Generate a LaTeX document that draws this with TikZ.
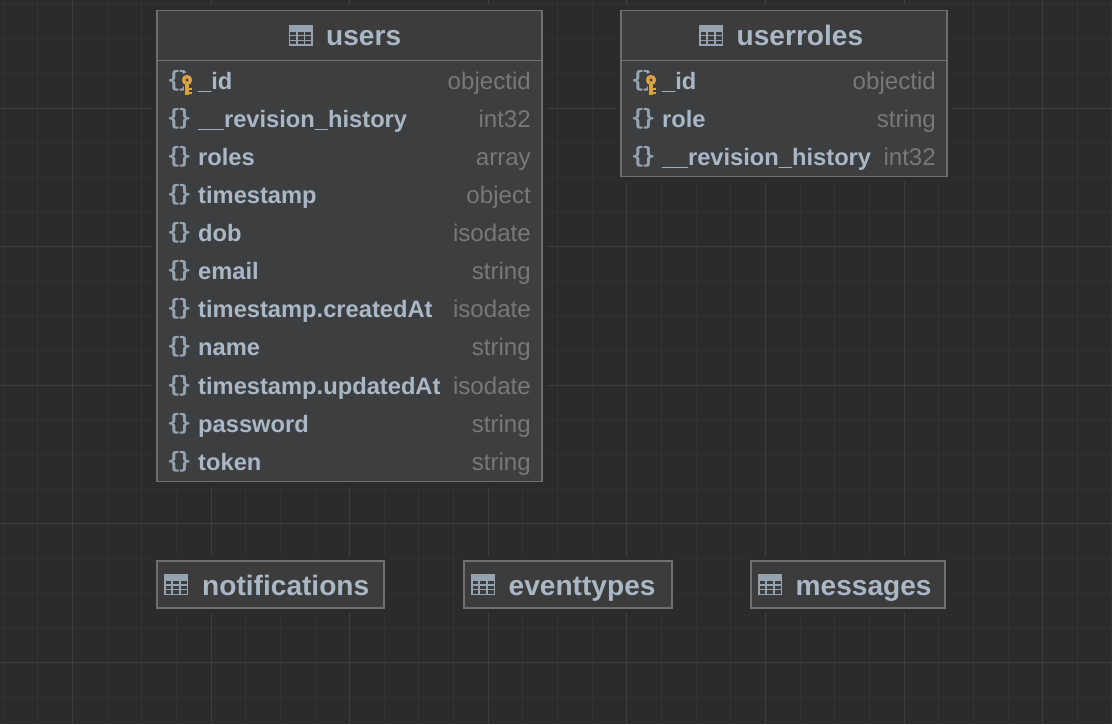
\documentclass[tikz,border=0pt]{standalone}
\usepackage{fontspec}
\setmainfont{Liberation Sans}
\newfontfamily\iconfont{DejaVu Sans Mono}
\definecolor{bgc}{HTML}{2B2B2B}
\definecolor{gridminor}{HTML}{323232}
\definecolor{gridmajor}{HTML}{3E3E3E}
\definecolor{headc}{HTML}{3C3C3C}
\definecolor{bodyc}{HTML}{3D3E40}
\definecolor{edgec}{HTML}{6E6F6E}
\definecolor{labelc}{HTML}{A9B7C6}
\definecolor{iconc}{HTML}{95A3B0}
\definecolor{typec}{HTML}{787878}
\definecolor{keyc}{HTML}{D9A343}
\tikzset{
  x=1pt,y=-1pt,
  tablebox/.style={draw=edgec,line width=1.7pt,fill=bodyc},
  headbox/.style={draw=edgec,line width=1.7pt,fill=headc},
  halo/.style={fill=bgc,draw=none},
  titletext/.style={text=labelc,inner sep=0pt,anchor=base west,font=\fontsize{28.1}{30}\selectfont\bfseries},
  fieldtext/.style={text=labelc,inner sep=0pt,anchor=base west,font=\fontsize{23.7}{26}\selectfont\bfseries},
  typetext/.style={text=typec,inner sep=0pt,anchor=base east,font=\fontsize{24.1}{26}\selectfont},
  bracetext/.style={text=iconc,inner sep=0pt,anchor=base west,font=\iconfont\bfseries\fontsize{22.5}{24}\selectfont},
}
% table glyph: x left, y top
\newcommand{\tableglyph}[2]{%
  \fill[iconc] (#1,#2) rectangle ++(24,21);
  \foreach \cx in {1.5,9.2,16.9}\foreach \cy in {7,11.7,16.4}{
    \fill[headc] ({#1+\cx},{#2+\cy}) rectangle ++(5.8,3.4);}
}
% key glyph: x centre, y centre of bow
\newcommand{\keyglyph}[2]{%
  \fill[bodyc] (#1,#2) circle (7.2);
  \fill[bodyc] ({#1-3.5},{#2+4}) rectangle ++(9,11.5);
  \fill[keyc,even odd rule] (#1,#2) circle (5.2) (#1,#2) circle (1.8);
  \fill[keyc] ({#1-2},{#2+4}) rectangle ++(4,10.5);
  \fill[keyc] ({#1+1},{#2+8}) rectangle ++(3.8,2.2);
  \fill[keyc] ({#1+1},{#2+12}) rectangle ++(3.8,2.2);
}
% name, x of icon, x of label, x of right end, y of baseline, label, type
\newcommand{\fieldrow}[7]{%
  \node[bracetext] (#1b) at (#2,#5-1.5) {\{\kern-3pt\}};
  \node[fieldtext] (#1n) at (#3,#5) {#6};
  \node[typetext] (#1t) at (#4,#5) {#7};
}
\begin{document}
\begin{tikzpicture}
\useasboundingbox (0,0) rectangle (1112,724);
\fill[bgc] (0,0) rectangle (1112,724);
% grid, snapped to the pixel raster
\foreach \i in {-2,...,32}{
  \pgfmathsetmacro{\gx}{round(72+34.65*\i)+0.5}
  \pgfmathsetmacro{\gy}{round(662-34.65*\i)+0.5}
  \draw[gridminor,line width=1.5pt] (\gx,0) -- ++(0,724);
  \draw[gridminor,line width=1.5pt] (0,\gy) -- ++(1112,0);
}
\foreach \i in {0,...,7}{
  \pgfmathsetmacro{\gx}{round(72+138.6*\i)+0.5}
  \pgfmathsetmacro{\gy}{round(662-138.6*\i)+0.5}
  \draw[gridmajor,line width=1.5pt] (\gx,0) -- ++(0,724);
  \draw[gridmajor,line width=1.5pt] (0,\gy) -- ++(1112,0);
}
% halos
\fill[halo] (152,5) rectangle (548,487);
\fill[halo] (616,5) rectangle (952,182);
\fill[halo] (152,556) rectangle (389,613);
\fill[halo] (459,556) rectangle (677,613);
\fill[halo] (746,556) rectangle (950,613);
% users
\node[tablebox,minimum width=385.4pt,minimum height=471pt,inner sep=0pt,anchor=north west] (users) at (156,9.7) {};
\node[headbox,minimum width=385.4pt,minimum height=50pt,inner sep=0pt,anchor=north west] (usershead) at (156,9.7) {};
\tableglyph{288.5}{24.5}
\node[titletext] (userstitle) at (326,45) {users};
\fieldrow{ua}{167}{198}{531}{89}{\_id}{objectid}
\fieldrow{ub}{167}{198}{531}{127}{\_\kern-0.5pt\_revision\_history}{int32}
\fieldrow{uc}{167}{198}{531}{165}{roles}{array}
\fieldrow{ud}{167}{198}{531}{203}{timestamp}{object}
\fieldrow{ue}{167}{198}{531}{241}{dob}{isodate}
\fieldrow{uf}{167}{198}{531}{279}{email}{string}
\fieldrow{ug}{167}{198}{531}{317}{timestamp.createdAt}{isodate}
\fieldrow{uh}{167}{198}{531}{355}{name}{string}
\fieldrow{ui}{167}{198}{531}{394}{timestamp.updatedAt}{isodate}
\fieldrow{uj}{167}{198}{531}{432}{password}{string}
\fieldrow{uk}{167}{198}{531}{470}{token}{string}
\keyglyph{187}{80}
% userroles
\node[tablebox,minimum width=326pt,minimum height=166pt,inner sep=0pt,anchor=north west] (userroles) at (620,9.7) {};
\node[headbox,minimum width=326pt,minimum height=50pt,inner sep=0pt,anchor=north west] (userroleshead) at (620,9.7) {};
\tableglyph{699}{24.5}
\node[titletext] (userrolestitle) at (736.5,45) {userroles};
\fieldrow{ra}{631}{662}{936}{89}{\_id}{objectid}
\fieldrow{rb}{631}{662}{936}{127}{role}{string}
\fieldrow{rc}{631}{662}{936}{165}{\_\kern-0.5pt\_revision\_history}{int32}
\keyglyph{651}{80}
% collapsed tables
\node[headbox,minimum width=227pt,minimum height=47pt,inner sep=0pt,anchor=north west] (notifications) at (156,560.2) {};
\tableglyph{164}{574}
\node[titletext] (notificationstitle) at (202,595) {notifications};
\node[headbox,minimum width=208pt,minimum height=47pt,inner sep=0pt,anchor=north west] (eventtypes) at (463,560.2) {};
\tableglyph{471}{574}
\node[titletext] (eventtypestitle) at (508.5,595) {eventtypes};
\node[headbox,minimum width=194pt,minimum height=47pt,inner sep=0pt,anchor=north west] (messages) at (750,560.2) {};
\tableglyph{758}{574}
\node[titletext] (messagestitle) at (795.5,595) {messages};
\end{tikzpicture}
\end{document}
